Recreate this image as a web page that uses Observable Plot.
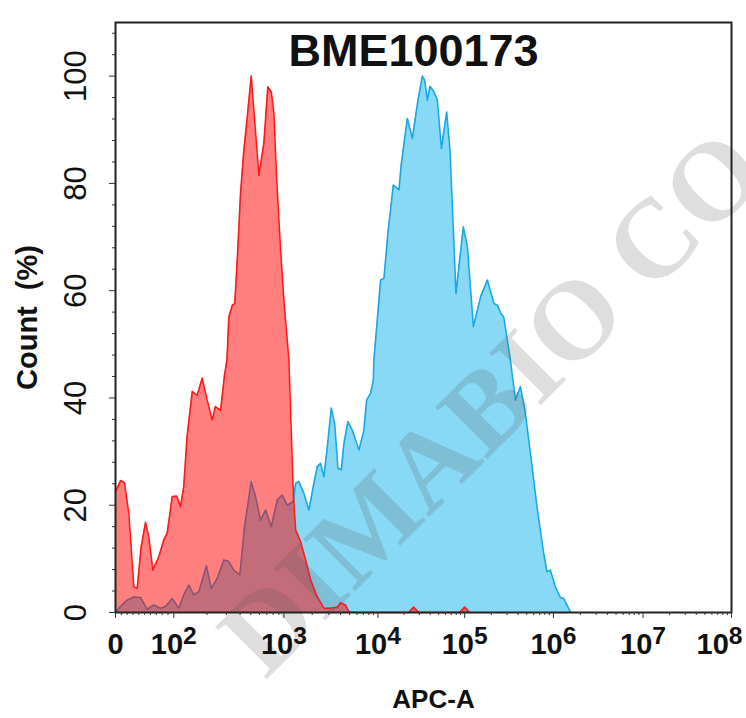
<!DOCTYPE html>
<html><head><meta charset="utf-8">
<script src="https://cdn.jsdelivr.net/npm/d3@7"></script>
<script src="https://cdn.jsdelivr.net/npm/@observablehq/plot@0.6"></script>
<style>
body{margin:0;background:#fff;}
#chart{position:relative;width:746px;height:718px;overflow:hidden;background:#fff;}
</style></head><body><div id="chart"></div>
<script>
const title = "BME100173";
const xLabel = "APC-A";
const yLabel = "Count  (%)";
const watermark = "DIMABIO CO";

// Red histogram (control) — APC-A intensity and Count (%)
const redX = [0, 8.6, 15.4, 22.8, 31.4, 37.2, 44.1, 51.5, 57.1, 64.0, 74.3, 82.8, 88.7, 97.3, 106, 115, 123, 132, 147, 163, 181, 201, 223, 239, 266, 289, 304, 316, 340, 358, 377, 404, 433, 465, 505, 542, 593, 658, 715, 768, 811, 858, 933, 1000, 1130, 1199, 1259, 1332, 1506, 1702, 1923, 2266, 2665, 3139, 3700, 4011, 4531, 4915, 5790, 22600, 25800, 29500, 87500, 100000, 113800];
const redY = [22.5, 24.6, 24.2, 18.5, 4.8, 4.5, 12.3, 16.8, 14.1, 7.9, 10.4, 13.5, 14.8, 21.6, 21.7, 19.7, 23.4, 32.8, 41.2, 40.5, 43.7, 39.6, 35.9, 38.4, 37.7, 44.3, 47.1, 55.1, 57.3, 57.6, 65.7, 78.2, 86.2, 92.4, 100, 91.8, 81.5, 87.5, 98, 97.1, 93.1, 81.2, 67.6, 58.2, 47.1, 33.5, 22.3, 15.4, 13.2, 9.8, 6.1, 2.9, 0.8, 0.8, 1.0, 1.8, 1.4, 0.1, 0, 0, 1.0, 0, 0, 1.0, 0];

// Blue histogram (BME100173)
const blueX = [0, 8.6, 20.1, 31.4, 42.9, 54.4, 65.7, 77.2, 85.8, 97.3, 111, 123, 137, 152, 169, 198, 219, 248, 285, 316, 351, 398, 439, 505, 553, 614, 682, 768, 871, 967, 1087, 1259, 1332, 1444, 1632, 1845, 2085, 2266, 2456, 2665, 2896, 3193, 3462, 3754, 4079, 4348, 4795, 5342, 6280, 7100, 7585, 8360, 8935, 9070, 10740, 11730, 13040, 15050, 17470, 18620, 21830, 24940, 28930, 32520, 34560, 37140, 39790, 44250, 48430, 53870, 62000, 67680, 79380, 96600, 107250, 125300, 151500, 180300, 213900, 233700, 254600, 275300, 327400, 372900, 424600, 483400, 550500, 653200, 777300, 847000, 925100, 1053000, 1197000, 1303000, 1548000];
const blueY = [0.15, 1.1, 2.3, 2.9, 2.8, 0.6, 1.4, 0.8, 1.1, 2.6, 0.8, 3.3, 5.1, 3.3, 3.9, 8.7, 4.5, 6.4, 9.8, 9.5, 7.9, 7.0, 16.0, 24.4, 21.6, 17.2, 19.1, 16.0, 21.0, 21.9, 20.0, 20.7, 24.1, 24.4, 22.2, 19.1, 24.1, 27.2, 27.8, 25.3, 30.9, 38.1, 35.3, 26.9, 26.6, 31.5, 35.6, 34.0, 30.3, 34.0, 39.6, 40.9, 43.3, 47.1, 62.0, 62.3, 70.7, 79.7, 78.8, 83.7, 92.1, 88.4, 95.5, 100, 99.3, 95.5, 98.1, 97.1, 95.5, 86.5, 93.3, 86.2, 59.5, 71.9, 68.2, 53.3, 58.9, 62.0, 57.6, 57.3, 55.8, 55.1, 47.1, 39.6, 42.1, 37.1, 29.7, 19.7, 11.0, 7.6, 7.9, 4.8, 2.8, 2.6, 0.1];

// Axis ticks
const xTickValues = [0, 1e2, 1e3, 1e4, 1e5, 1e6, 1e7, 1e8];
const xTickLabels = ["0", "10^2", "10^3", "10^4", "10^5", "10^6", "10^7", "10^8"];
const xMinorTicks = [10,20,30,40,50,60,70,80,90,
  200,300,400,500,600,700,800,900,
  2e3,3e3,4e3,5e3,6e3,7e3,8e3,9e3,
  2e4,3e4,4e4,5e4,6e4,7e4,8e4,9e4,
  2e5,3e5,4e5,5e5,6e5,7e5,8e5,9e5,
  2e6,3e6,4e6,5e6,6e6,7e6,8e6,9e6,
  2e7,3e7,4e7,5e7,6e7,7e7,8e7,9e7];
const yTickValues = [0, 20, 40, 60, 80, 100];
const yMinorTicks = [4,8,12,16,24,28,32,36,44,48,52,56,64,68,72,76,84,88,92,96,104,108];

// Biexponential display scale: anchor values -> display units (decades)
const biexValues = [0, 1e2, 1e3, 1e4, 1e5, 1e6, 1e7, 1e8];
const biexUnits  = [0, 0.7575, 2.1868, 3.4081, 4.5347, 5.6872, 6.8514, 8];
function biex(v) {
  if (v <= biexValues[1]) return v / biexValues[1] * biexUnits[1];
  let k = Math.floor(Math.log10(v));
  k = Math.max(2, Math.min(7, k));
  const i = k - 1;
  return biexUnits[i] + (Math.log10(v) - k) * (biexUnits[i + 1] - biexUnits[i]);
}

const red = redX.map((x, i) => ({x, y: redY[i]}));
const blue = blueX.map((x, i) => ({x, y: blueY[i]}));
const labelOf = new Map(xTickValues.map((v, i) => [biex(v), xTickLabels[i]]));

const font = '"Liberation Sans", Arial, sans-serif';

const plot = Plot.plot({
  width: 746, height: 718,
  marginLeft: 115, marginRight: 15, marginTop: 22, marginBottom: 106,
  style: {fontFamily: font, background: "white", color: "#111", whiteSpace: "pre"},
  x: {domain: [0, 8]},
  y: {domain: [0, 110]},
  marks: [
    Plot.areaY(blue, {x: d => biex(d.x), y: "y", fill: "#87d9f5"}),
    Plot.lineY(blue, {x: d => biex(d.x), y: "y", stroke: "#1aa8e4", strokeWidth: 1.6}),
    Plot.areaY(red, {x: d => biex(d.x), y: "y", fill: "#ff0000", fillOpacity: 0.5}),
    Plot.lineY(red, {x: d => biex(d.x), y: "y", stroke: "#ff1a1a", strokeWidth: 1.6}),
    Plot.text([watermark], {frameAnchor: "bottom-left", dx: 150, dy: 68, rotate: -45,
      textAnchor: "start", lineAnchor: "bottom", fontSize: 112, fontWeight: "bold",
      fontFamily: '"Liberation Serif", "DejaVu Serif", serif', fill: "rgb(90,90,90)", fillOpacity: 0.2}),
    Plot.frame({stroke: "#222", strokeWidth: 2}),
    Plot.axisX(xMinorTicks.map(biex), {tickSize: 3, tickFormat: () => "", label: null, stroke: "#333"}),
    Plot.axisX(xTickValues.map(biex), {tickSize: 6, tickPadding: 15, tickFormat: d => labelOf.get(d),
      fontSize: 29, fontWeight: "bold", label: null, stroke: "#333"}),
    Plot.axisY(yMinorTicks, {tickSize: 3, tickFormat: () => "", label: null, stroke: "#333"}),
    Plot.axisY(yTickValues, {tickSize: 6, tickPadding: 24, tickRotate: -90,
      fontSize: 31, fontWeight: "normal", label: null, stroke: "#333"}),
    Plot.text([title], {frameAnchor: "top", lineAnchor: "middle", dx: -10, dy: 29, fontSize: 45, fontWeight: "bold"}),
    Plot.text([xLabel], {frameAnchor: "bottom", lineAnchor: "middle", dx: 10, dy: 87, fontSize: 26, fontWeight: "bold"}),
    Plot.text([yLabel], {frameAnchor: "left", textAnchor: "middle", lineAnchor: "middle", dx: -88, rotate: -90, fontSize: 29, fontWeight: "bold"})
  ]
});

// superscript exponents for the x tick labels
d3.select(plot).selectAll("text").each(function() {
  const m = /^10\^(\d+)$/.exec(this.textContent);
  if (!m) return;
  const t = d3.select(this);
  t.text("10");
  t.append("tspan").attr("dy", "-0.4em").attr("font-size", "0.85em").text(m[1]);
  if (m[1] === "8") t.attr("dx", -12);
});

document.getElementById("chart").appendChild(plot);
</script>
</body></html>
